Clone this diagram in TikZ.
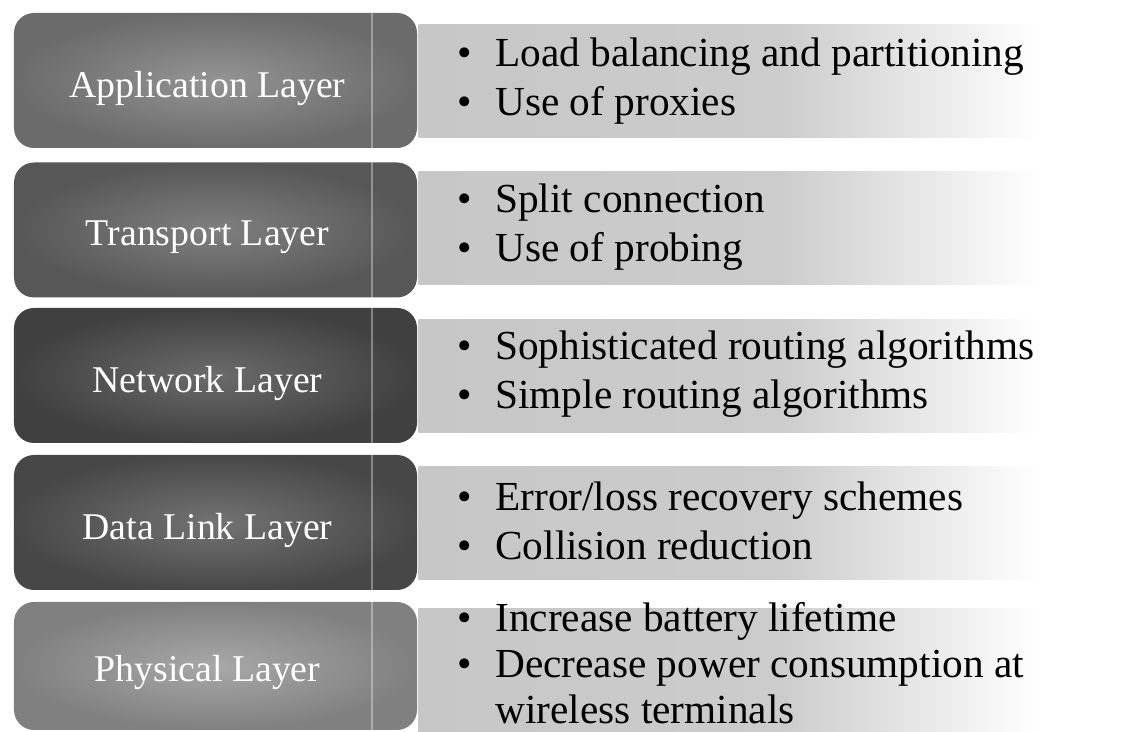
\documentclass[tikz,border=0pt]{standalone}
\usepackage{fontspec}
\setmainfont{Liberation Serif}
\usetikzlibrary{positioning}
\pgfdeclarehorizontalshading{band fade}{100bp}{color(0bp)=(black!22); color(25bp)=(black!22); color(50bp)=(black!20); color(60bp)=(black!9); color(68bp)=(white); color(100bp)=(white)}
\tikzset{
    layer box/.style={shade,rounded corners=0.4cm,minimum width=8.06cm,minimum height=2.7cm,inner sep=0pt},
    layer label/.style={text=white,font=\fontsize{21.5}{24}\selectfont,inner sep=0pt},
    note band/.style={shade,shading=band fade,minimum width=14.44cm,minimum height=2.26cm,inner sep=0pt,anchor=west},
    note text/.style={anchor=west,align=left,inner sep=0pt,font=\fontsize{23.5}{27.8}\selectfont},
    glint/.style={white,opacity=.35,line width=1.5pt},
}
\newcommand{\noteitem}[1]{\makebox[0.76cm][l]{\textbullet}#1}
\begin{document}
\begin{tikzpicture}
        \useasboundingbox (0,0) rectangle (22.8,14.64);
        \coordinate (glintx) at (7.44,0);
        % layers
        \node[layer box,inner color=black!42,outer color=black!58] (app) at (4.31,13.03) {};
        \node[layer box,inner color=black!50,outer color=black!66] (trans) at (4.31,10.04) {};
        \node[layer box,inner color=black!58,outer color=black!75] (net) at (4.31,7.13) {};
        \node[layer box,inner color=black!55,outer color=black!72] (link) at (4.31,4.19) {};
        \node[layer box,minimum height=2.56cm,inner color=black!34,outer color=black!50] (phys) at (4.31,1.32) {};
        \foreach \l in {app,trans,net,link,phys}
            \draw[glint] (\l.north -| glintx) -- (\l.south -| glintx);
        \node[layer label] (applabel) at (4.15,12.88) {Application Layer};
        \node[layer label] (translabel) at (4.15,9.89) {Transport Layer};
        \node[layer label] (netlabel) at (4.15,6.98) {Network Layer};
        \node[layer label] (linklabel) at (4.15,4.04) {Data Link Layer};
        \node[layer label] (physlabel) at (4.15,1.20) {Physical Layer};
        % techniques
        \node[note band] (appband) at (8.36,13.01) {};
        \node[note band] (transband) at (8.36,10.07) {};
        \node[note band] (netband) at (8.36,7.11) {};
        \node[note band] (linkband) at (8.36,4.18) {};
        \node[note band,minimum height=2.46cm] (physband) at (8.36,1.23) {};
        \node[note text] (appnotes) at (9.14,13.02) {\noteitem{Load balancing and partitioning}\\\noteitem{Use of proxies}};
        \node[note text] (transnotes) at (9.14,10.10) {\noteitem{Split connection}\\\noteitem{Use of probing}};
        \node[note text] (netnotes) at (9.14,7.16) {\noteitem{Sophisticated routing algorithms}\\\noteitem{Simple routing algorithms}};
        \node[note text] (linknotes) at (9.14,4.22) {\noteitem{Error/loss recovery schemes}\\\noteitem{Collision reduction}};
        \node[note text,font=\fontsize{23.5}{26.1}\selectfont] (physnotes) at (9.14,1.38) {\noteitem{Increase battery lifetime}\\\noteitem{Decrease power consumption at}\\\makebox[0.76cm]{}wireless terminals};
\end{tikzpicture}
\end{document}
